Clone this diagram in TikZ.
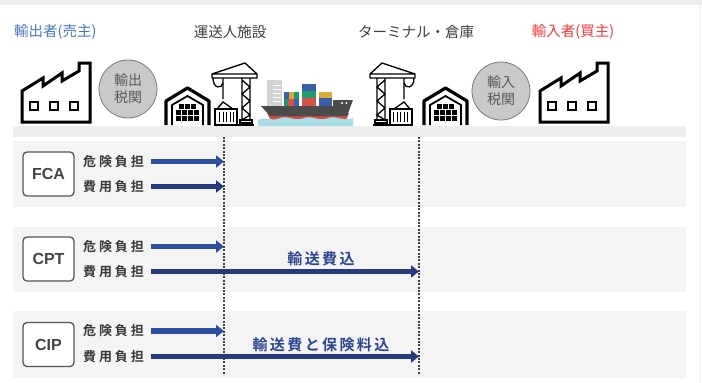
\documentclass[tikz,border=0pt]{standalone}
\usepackage{fontspec}
\setmainfont{Noto Sans CJK JP}[BoldFont={Noto Sans CJK JP Bold}]
\newfontfamily\latinsans{Liberation Sans}
\usetikzlibrary{arrows.meta}

\definecolor{exportblue}{HTML}{4A76C0}
\definecolor{importred}{HTML}{F53B3B}
\definecolor{headgray}{HTML}{404040}
\definecolor{edgegray}{HTML}{EDEDED}
\definecolor{stripgray}{HTML}{EEEEEE}
\definecolor{bandgray}{HTML}{F4F4F4}
\definecolor{customsfill}{HTML}{C9C9C9}
\definecolor{customsline}{HTML}{7A7A7A}
\definecolor{customstext}{HTML}{5A5A5A}
\definecolor{termline}{HTML}{555555}
\definecolor{termtext}{HTML}{444444}
\definecolor{burdentext}{HTML}{3A3A3A}
\definecolor{riskblue}{HTML}{2D4F9F}
\definecolor{costblue}{HTML}{263A7C}
\definecolor{incltext}{HTML}{2E4590}
\definecolor{water}{HTML}{A9DDE6}
\definecolor{hullgray}{HTML}{4B4B4B}
\definecolor{hullred}{HTML}{D24A45}
\definecolor{boxblue}{HTML}{3C5DA8}
\definecolor{boxgreen}{HTML}{1F9A68}
\definecolor{boxred}{HTML}{D65148}
\definecolor{boxyellow}{HTML}{D6AE3C}
\definecolor{towergray}{HTML}{D2D2D2}

\begin{document}
\begin{tikzpicture}[x=1pt,y=-1pt,
	head/.style={font=\fontsize{14.5}{16}\selectfont,inner sep=0pt},
	customs/.style={circle,draw=customsline,fill=customsfill,line width=0.8pt,minimum size=58pt,inner sep=0pt,align=center,text=customstext,font=\fontsize{14}{17}\selectfont},
	term/.style={draw=termline,fill=white,line width=1.3pt,rounded corners=4pt,minimum width=51pt,minimum height=44pt,text=termtext,font=\latinsans\bfseries\fontsize{16}{18}\selectfont},
	burden/.style={anchor=west,inner sep=0pt,text=burdentext,font=\bfseries\fontsize{13}{15}\selectfont\addfontfeature{LetterSpace=22}},
	riskarrow/.style={-{Triangle[width=12pt,length=8pt]},line width=5.5pt,draw=riskblue},
	costarrow/.style={-{Triangle[width=12pt,length=8pt]},line width=5.5pt,draw=costblue},
	incl/.style={inner sep=0pt,text=incltext,font=\bfseries\fontsize{15}{17}\selectfont\addfontfeature{LetterSpace=16}},
	boundary/.style={draw=headgray,line width=1.3pt,dash pattern=on 2pt off 1.4pt},
	factory/.pic={
		\draw[line width=3pt,fill=white] (22,122) -- (22,91) -- (43,78) -- (43,86) -- (62,73) -- (62,81) -- (79,71) -- (79,63) -- (90,63) -- (90,122) -- cycle;
		\foreach \wx in {30,50,70}
			\draw[line width=2.2pt] (\wx,102) rectangle ++(8,8);
	},
	warehouse/.pic={
		\draw[line width=3.2pt,line join=round] (166,125) -- (166,101) -- (187.5,88) -- (209,101) -- (209,125);
		\draw[line width=1.8pt] (172,125) -- (172,105) -- (187.5,96) -- (203,105) -- (203,125);
		\foreach \bx in {179,185,191}
			\fill (\bx,104) rectangle ++(5,5);
		\foreach \bx in {176,182,188,194}
			\foreach \by in {110,116}
				\fill (\bx,\by) rectangle ++(5,5);
	},
	crane/.pic={
		\draw[line width=1.3pt,line join=round] (212,78) -- (212,74) -- (245,63) -- (257,74) -- (257,78) -- cycle (212,74) -- (257,74);
		\draw[line width=1.3pt] (213,78) .. controls (213,89) and (222,89) .. (223,83);
		\draw[line width=1.3pt] (223,78) -- (223,99) (217,109) -- (223,102) -- (233,109);
		\draw[line width=1.3pt] (215,109) rectangle (237,125);
		\foreach \sx in {219.5,223,226.5,230,233.5}
			\draw[line width=1pt] (\sx,112) -- (\sx,122);
		\draw[line width=1.3pt] (242,78) -- (242,120) (250,78) -- (250,120) (242,80) -- (250,87) -- (242,94) -- (250,101) -- (242,108) -- (250,115) -- (242,120);
		\draw[line width=1.3pt] (240,120) rectangle (252,123);
		\draw[line width=2pt] (238,125) -- (254,125);
	}]
	\useasboundingbox (0,0) rectangle (702,383);
	\fill[white] (0,0) rectangle (702,383);
	\fill[edgegray] (0,0) rectangle (702,5);
	\fill[edgegray] (699.5,5) rectangle (701,383);
	\fill[stripgray] (13,126) rectangle (686,137);
	\fill[bandgray] (13,141) rectangle (686,207);
	\fill[bandgray] (13,227) rectangle (686,292);
	\fill[bandgray] (13,311) rectangle (686,378);

	\node[head,anchor=west,text=exportblue] (exporter) at (14,32) {輸出者(売主)};
	\node[head,text=headgray] (carrierhead) at (230,32) {運送人施設};
	\node[head,text=headgray] (terminalhead) at (416,32) {ターミナル・倉庫};
	\node[head,text=importred] (importer) at (573,32) {輸入者(買主)};

	\pic at (0,0) {factory};
	\pic at (518,0) {factory};
	\pic at (0,0) {warehouse};
	\pic at (258,0) {warehouse};
	\pic at (0,0) {crane};
	\pic[xscale=-1] at (627,0) {crane};
	\node[customs] (expcustoms) at (128,89) {輸出\\税関};
	\node[customs] (impcustoms) at (501,91) {輸入\\税関};

	\fill[towergray] (267,80) rectangle (282,106);
	\foreach \ly in {85,89,93,97,101}
		\draw[white,line width=0.7pt] (273,\ly) -- (281,\ly);
	\fill[boxblue] (284,92) rectangle (289,99);
	\fill[boxyellow] (289,92) rectangle (294,99);
	\fill[boxgreen] (294,92) rectangle (299,99);
	\fill[boxgreen] (284,99) rectangle (288,106);
	\fill[boxred] (288,99) rectangle (294,106);
	\fill[boxblue] (294,99) rectangle (299,106);
	\fill[boxblue] (302,84) rectangle (316,91);
	\fill[boxgreen] (302,91) rectangle (316,98);
	\fill[boxred] (302,98) rectangle (316,106);
	\fill[boxyellow] (319,92) rectangle (332,98);
	\fill[boxblue] (319,98) rectangle (332,106);
	\fill[hullred] (267,113) -- (349,113) -- (345,123) -- (272,123) -- cycle;
	\fill[hullgray] (261,106) -- (333,106) -- (333,100) -- (353,100) -- (347,116) -- (270,116) -- cycle;
	\fill[white] (342,103) circle (1.1pt) (346.5,103) circle (1.1pt);
	\fill[water] (258,126) -- (258,120) .. controls (265,116) and (272,122) .. (280,118) .. controls (288,115) and (296,122) .. (304,118) .. controls (312,115) and (320,122) .. (328,118) .. controls (336,115) and (344,122) .. (353,118) -- (353,126) -- cycle;

	\coordinate (carrier) at (224,137);
	\coordinate (carrierend) at (224,375);
	\coordinate (terminal) at (419,137);
	\coordinate (terminalend) at (419,375);
	\draw[boundary] (carrier) -- (carrierend);
	\draw[boundary] (terminal) -- (terminalend);

	\node[term] (fca) at (48.5,174) {FCA};
	\node[burden] (fcarisk) at (83,161.5) {危険負担};
	\node[burden] (fcacost) at (83,186.5) {費用負担};
	\draw[riskarrow] ([xshift=7pt]fcarisk.east) -- (fcarisk.east -| carrier);
	\draw[costarrow] ([xshift=7pt]fcacost.east) -- (fcacost.east -| carrier);

	\node[term] (cpt) at (48.5,259) {CPT};
	\node[burden] (cptrisk) at (83,246.5) {危険負担};
	\node[burden] (cptcost) at (83,271.5) {費用負担};
	\draw[riskarrow] ([xshift=7pt]cptrisk.east) -- (cptrisk.east -| carrier);
	\draw[costarrow] ([xshift=7pt]cptcost.east) -- (cptcost.east -| terminal);
	\node[incl] (cptincl) at (321,259) {輸送費込};

	\node[term] (cip) at (48.5,344.5) {CIP};
	\node[burden] (ciprisk) at (83,331) {危険負担};
	\node[burden] (cipcost) at (83,356.5) {費用負担};
	\draw[riskarrow] ([xshift=7pt]ciprisk.east) -- (ciprisk.east -| carrier);
	\draw[costarrow] ([xshift=7pt]cipcost.east) -- (cipcost.east -| terminal);
	\node[incl] (cipincl) at (321,344.5) {輸送費と保険料込};
\end{tikzpicture}
\end{document}
